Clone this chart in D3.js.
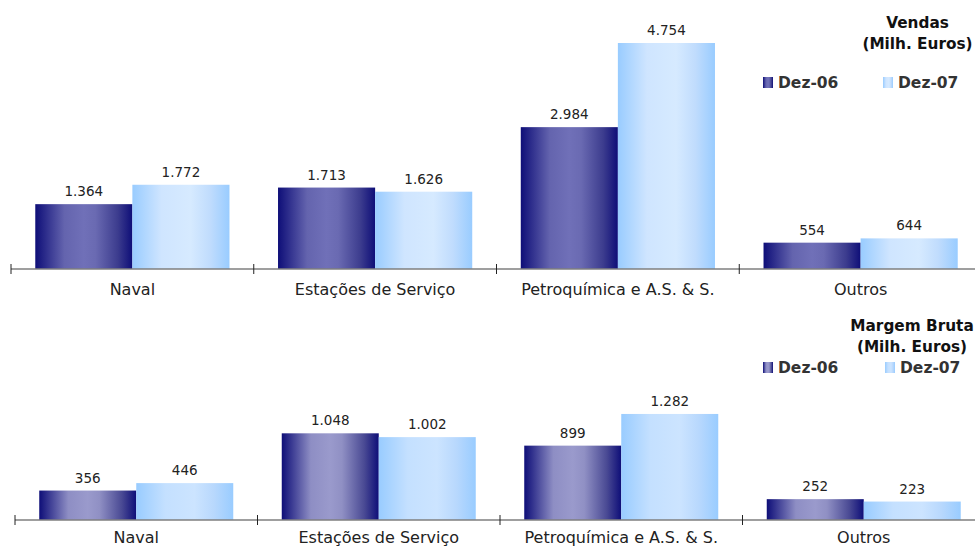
<!DOCTYPE html>
<html>
<head>
<meta charset="utf-8">
<script src="https://cdn.jsdelivr.net/npm/d3@7"></script>
<style>
  body { margin: 0; background: #fff; }
  svg { display: block; font-family: "DejaVu Sans", Verdana, sans-serif; }
</style>
</head>
<body>
<div id="chart"></div>
<script>
// ---- data ----
var categories = ["Naval", "Estações de Serviço", "Petroquímica e A.S. & S.", "Outros"];
var seriesNames = ["Dez-06", "Dez-07"];
var vendas06 = [1364, 1713, 2984, 554];
var vendas07 = [1772, 1626, 4754, 644];
var margem06 = [356, 1048, 899, 252];
var margem07 = [446, 1002, 1282, 223];

var W = 975, H = 548;

var svg = d3.select("#chart").append("svg")
    .attr("width", W)
    .attr("height", H);

var pt = d3.formatLocale({ decimal: ",", thousands: ".", grouping: [3], currency: ["", " €"] });
var fmt = pt.format(",d");

// ---- gradients ----
var defs = svg.append("defs");
function grad(id, stops) {
    var g = defs.append("linearGradient").attr("id", id)
        .attr("x1", "0%").attr("x2", "100%").attr("y1", "0%").attr("y2", "0%");
    stops.forEach(function(s) {
        g.append("stop").attr("offset", s[0]).attr("stop-color", s[1]);
    });
}
grad("dark1", [[0, "#0e0e78"], [0.3, "#6464ae"], [0.5, "#7070b8"], [0.62, "#6a6ab2"], [0.85, "#3c3c8e"], [1, "#0e0e78"]]);
grad("dark2", [[0, "#0e0e78"], [0.3, "#8e8ec4"], [0.5, "#9a9acc"], [0.62, "#9090c4"], [0.85, "#4a4a94"], [1, "#0e0e78"]]);
grad("light1", [[0, "#99ccff"], [0.3, "#cfe5ff"], [0.6, "#d6eaff"], [0.8, "#c0dcfd"], [1, "#99ccff"]]);
grad("light2", [[0, "#99ccff"], [0.3, "#c4e0ff"], [0.6, "#cce4ff"], [0.8, "#b8d8fd"], [1, "#99ccff"]]);

// ---- panel drawing ----
function panel(cfg) {
    var x = d3.scaleBand().domain(categories).range(cfg.xr).paddingInner(0.2).paddingOuter(0.1);
    var x1 = d3.scaleBand().domain(seriesNames).range([0, x.bandwidth()]);
    var y = d3.scaleLinear().domain([0, cfg.max]).range([cfg.axisY, cfg.top]);
    var fills = [cfg.darkFill, cfg.lightFill];
    var series = [cfg.s06, cfg.s07];

    var g = svg.append("g");

    series.forEach(function(vals, si) {
        g.selectAll(".bar" + si)
            .data(vals)
            .enter()
            .append("rect")
            .attr("x", function(d, i) { return x(categories[i]) + x1(seriesNames[si]); })
            .attr("y", function(d) { return y(d); })
            .attr("width", x1.bandwidth())
            .attr("height", function(d) { return y(0) - y(d); })
            .style("fill", "url(#" + fills[si] + ")");

        g.selectAll(".lbl" + si)
            .data(vals)
            .enter()
            .append("text")
            .attr("x", function(d, i) { return x(categories[i]) + x1(seriesNames[si]) + x1.bandwidth() / 2; })
            .attr("y", function(d) { return y(d) - 8; })
            .attr("text-anchor", "middle")
            .style("font-size", "13.5px")
            .style("fill", "#222")
            .text(function(d) { return fmt(d); });
    });

    // axis line + ticks between categories
    g.append("line")
        .attr("x1", cfg.xr[0]).attr("x2", W)
        .attr("y1", y(0)).attr("y2", y(0))
        .style("stroke", "#7f7f7f").style("stroke-width", 1.5);

    var step = x.step();
    var tickX = d3.range(categories.length).map(function(i) { return cfg.xr[0] + i * step; });
    g.selectAll(".tick")
        .data(tickX)
        .enter()
        .append("line")
        .attr("x1", function(d) { return d; }).attr("x2", function(d) { return d; })
        .attr("y1", y(0) - 5).attr("y2", y(0) + 5)
        .style("stroke", "#222").style("stroke-width", 1);

    g.selectAll(".cat")
        .data(categories)
        .enter()
        .append("text")
        .attr("x", function(d) { return x(d) + x.bandwidth() / 2; })
        .attr("y", y(0) + cfg.catDy)
        .attr("text-anchor", "middle")
        .style("font-size", "16px")
        .style("fill", "#222")
        .text(function(d) { return d; });

    // title (centred block at the right)
    cfg.title.forEach(function(t, i) {
        g.append("text")
            .attr("x", cfg.titleX)
            .attr("y", cfg.titleY + i * 21)
            .attr("text-anchor", "middle")
            .style("font-size", "15.3px")
            .style("font-weight", "bold")
            .style("fill", "#111")
            .text(t);
    });

    // legend
    seriesNames.forEach(function(s, i) {
        g.append("rect")
            .attr("x", cfg.legX[i]).attr("y", cfg.legY - 11)
            .attr("width", 10).attr("height", 11)
            .style("fill", "url(#" + fills[i] + ")");
        g.append("text")
            .attr("x", cfg.legX[i] + 15).attr("y", cfg.legY)
            .style("font-size", "15.5px")
            .style("font-weight", "bold")
            .style("fill", "#333")
            .text(s);
    });
}

panel({
    xr: [11, 982], axisY: 269, top: 31.3, max: 5000,
    s06: vendas06, s07: vendas07,
    darkFill: "dark1", lightFill: "light1",
    catDy: 26, title: ["Vendas", "(Milh. Euros)"], titleX: 917.5, titleY: 28,
    legX: [763, 883], legY: 88
});

panel({
    xr: [15, 985], axisY: 520, top: 404.2, max: 1400,
    s06: margem06, s07: margem07,
    darkFill: "dark2", lightFill: "light2",
    catDy: 23, title: ["Margem Bruta", "(Milh. Euros)"], titleX: 912, titleY: 331,
    legX: [763, 885], legY: 373
});
</script>
</body>
</html>
